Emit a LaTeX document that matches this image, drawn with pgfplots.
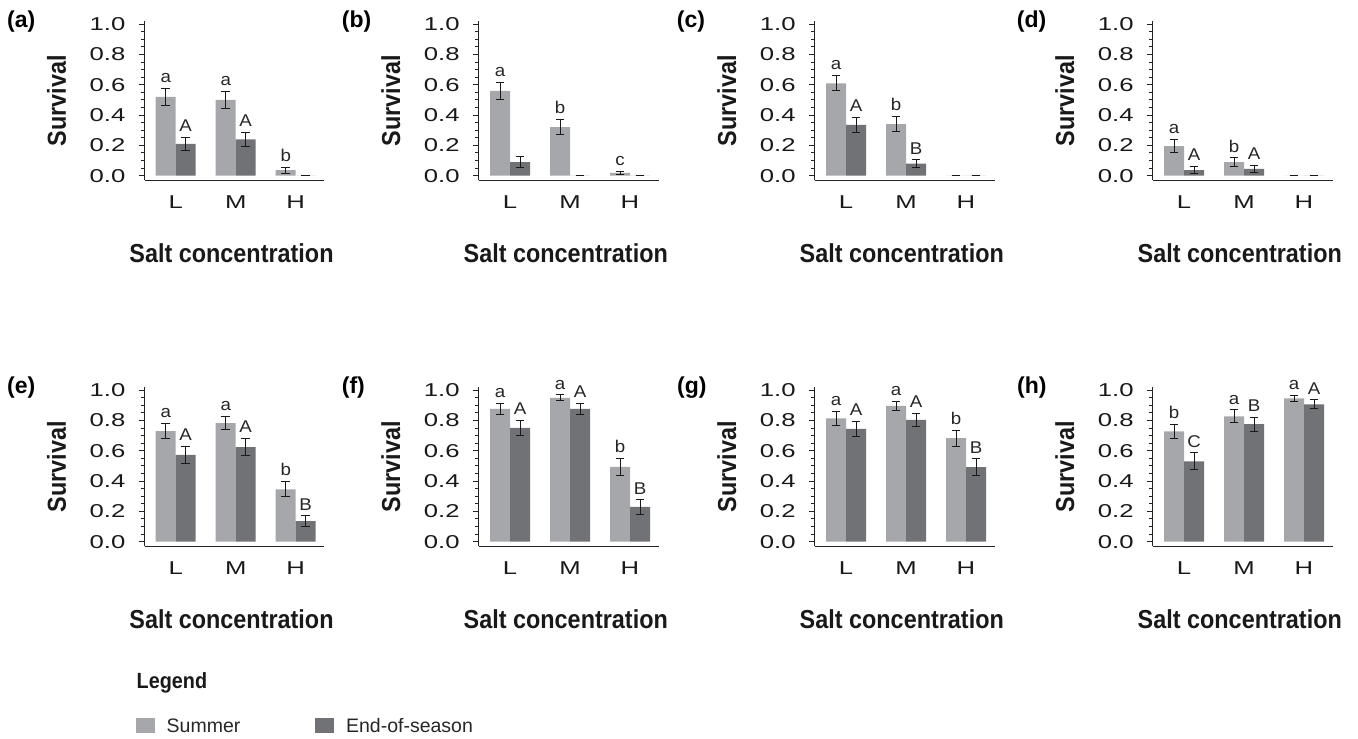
\documentclass[border=0pt]{standalone}
\usepackage{pgfplots}
\pgfplotsset{compat=1.18}
\usepackage{pgfplotstable}
\usepackage{fontspec}
\setmainfont{Liberation Sans}
\newfontfamily\titlefont{Liberation Sans}[FakeStretch=0.9]
\newfontfamily\tickfont{Liberation Sans}[FakeStretch=1.38]
\newfontfamily\letfont{Liberation Sans}[FakeStretch=1.1]
\definecolor{summer}{RGB}{166,167,171}
\definecolor{endseason}{RGB}{113,114,118}
\definecolor{axisc}{RGB}{35,35,35}
\newcommand{\tickfs}{\tickfont\fontsize{18.6}{20}\selectfont}
\newcommand{\letfs}{\letfont\fontsize{17}{19}\selectfont}
\newcommand{\titlefs}{\titlefont\bfseries\fontsize{26}{28}\selectfont}
\newcommand{\panelfs}{\bfseries\fontsize{23}{25}\selectfont}

% columns: x, summer, summer error, end-of-season, end error, letters
\pgfplotstableread{
x s se e ee ls le
0 0.52 0.055 0.21 0.045 a A
1 0.50 0.055 0.24 0.045 a A
2 0.037 0.02 0 0 b {}
}\tabA
\pgfplotstableread{
x s se e ee ls le
0 0.56 0.055 0.09 0.035 a {}
1 0.32 0.05 0 0 b {}
2 0.018 0.011 0 0 c {}
}\tabB
\pgfplotstableread{
x s se e ee ls le
0 0.61 0.05 0.335 0.05 a A
1 0.34 0.05 0.08 0.025 b B
2 0 0 0 0 {} {}
}\tabC
\pgfplotstableread{
x s se e ee ls le
0 0.195 0.045 0.037 0.023 a A
1 0.09 0.027 0.044 0.022 b A
2 0 0 0 0 {} {}
}\tabD
\pgfplotstableread{
x s se e ee ls le
0 0.73 0.048 0.573 0.055 a A
1 0.783 0.045 0.625 0.055 a A
2 0.346 0.05 0.135 0.036 b B
}\tabE
\pgfplotstableread{
x s se e ee ls le
0 0.877 0.035 0.751 0.048 a A
1 0.949 0.02 0.877 0.037 a A
2 0.494 0.055 0.229 0.047 b B
}\tabF
\pgfplotstableread{
x s se e ee ls le
0 0.815 0.045 0.745 0.05 a A
1 0.896 0.032 0.804 0.045 a A
2 0.683 0.053 0.492 0.055 b B
}\tabG
\pgfplotstableread{
x s se e ee ls le
0 0.729 0.048 0.531 0.055 b C
1 0.827 0.043 0.776 0.047 a B
2 0.947 0.02 0.907 0.03 a A
}\tabH

\pgfplotsset{
 panel/.style={
  scale only axis, width=180pt, height=159pt,
  anchor=south west,
  xmin=-0.52, xmax=2.48, ymin=-0.03, ymax=1.02,
  axis x line*=bottom, axis y line*=left,
  axis line style={line width=1.1pt, axisc},
  xtick={0,1,2}, xticklabels={L,M,H},
  ytick={0,0.2,0.4,0.6,0.8,1.0},
  minor y tick num=3,
  tick align=outside,
  major tick length=6pt, minor tick length=4pt,
  every tick/.append style={line width=1pt, axisc},
  xtick style={draw=none},
  /pgf/number format/assume math mode=true,
  tick label style={font=\tickfs, text=black!90},
  yticklabel style={/pgf/number format/fixed, /pgf/number format/fixed zerofill, /pgf/number format/precision=1, anchor=east, inner sep=0pt, xshift=-13pt},
  xticklabel style={anchor=base, inner sep=0pt, yshift=-22pt},
  ylabel={Survival},
  ylabel style={at={(axis description cs:0,0.5)}, anchor=center, yshift=88pt, font=\titlefs, text=black!90},
  xlabel={Salt concentration},
  xlabel style={at={(axis description cs:0.5,0)}, anchor=base, yshift=-82pt, xshift=-3pt, font=\titlefs, text=black!90},
  clip=false,
 },
 ebars/.style={forget plot, draw=none, mark=none, error bars/.cd, y dir=both, y explicit,
   error bar style={draw=black!90, line width=1pt},
   error mark options={rotate=90, mark size=4.3pt, draw=black!90, line width=1pt}},
 letters/.style={draw=none, forget plot, nodes near coords, point meta=explicit symbolic,
   nodes near coords style={anchor=south, inner sep=0pt, yshift=5.5pt, font=\letfs, text=black!85}},
}

\newcommand{\bars}[1]{%
 \addplot[ybar, bar width=20pt, bar shift=-10pt, fill=summer, draw=none,
   legend image code/.code={\fill[summer] (0pt,-7pt) rectangle (19pt,8.6pt);}]
   table[x=x, y=s] {#1};
 \addplot[ybar, bar width=20pt, bar shift=10pt, fill=endseason, draw=none,
   legend image code/.code={\fill[endseason] (0pt,-7pt) rectangle (19pt,8.6pt);}]
   table[x=x, y=e] {#1};
 \addplot[ebars] table[x expr=\thisrow{x}-1/6, y=s, y error=se] {#1};
 \addplot[ebars] table[x expr=\thisrow{x}+1/6, y=e, y error=ee] {#1};
 \addplot[letters] table[x expr=\thisrow{x}-1/6, y expr=\thisrow{s}+\thisrow{se}, meta=ls] {#1};
 \addplot[letters] table[x expr=\thisrow{x}+1/6, y expr=\thisrow{e}+\thisrow{ee}, meta=le] {#1};
}

\begin{document}
\begin{tikzpicture}[x=1pt, y=1pt]
\useasboundingbox (0pt,0pt) rectangle (1358pt,-739pt);

% top row
\begin{axis}[panel, at={(144.5pt,-180.2pt)}]
\bars{\tabA}
\end{axis}
\begin{axis}[panel, at={(478.8pt,-180.2pt)}]
\bars{\tabB}
\end{axis}
\begin{axis}[panel, at={(814.8pt,-180.2pt)}]
\bars{\tabC}
\end{axis}
\begin{axis}[panel, at={(1152.8pt,-180.2pt)}]
\bars{\tabD}
\end{axis}

% bottom row
\begin{axis}[panel, at={(144.5pt,-546.2pt)},
  legend style={at={(rel axis cs:-0.0472,-1.0786)}, anchor=north west, draw=none, fill=none,
    inner sep=0pt, outer sep=0pt, legend columns=2, font=\fontsize{19.5}{21}\selectfont,
    nodes={inner sep=0pt, text=black!85},
    /tikz/every odd column/.append style={column sep=11.7pt},
    /tikz/every even column/.append style={column sep=75pt}},
  legend cell align=left]
\bars{\tabE}
\legend{Summer,End-of-season}
\end{axis}
\begin{axis}[panel, at={(478.8pt,-546.2pt)}]
\bars{\tabF}
\end{axis}
\begin{axis}[panel, at={(814.8pt,-546.2pt)}]
\bars{\tabG}
\end{axis}
\begin{axis}[panel, at={(1152.8pt,-546.2pt)}]
\bars{\tabH}
\end{axis}

% panel labels
\node[anchor=base west, font=\panelfs, inner sep=0pt] at (7pt,-27.5pt) {(a)};
\node[anchor=base west, font=\panelfs, inner sep=0pt] at (341.7pt,-27.5pt) {(b)};
\node[anchor=base west, font=\panelfs, inner sep=0pt] at (676.7pt,-27.5pt) {(c)};
\node[anchor=base west, font=\panelfs, inner sep=0pt] at (1016.7pt,-27.5pt) {(d)};
\node[anchor=base west, font=\panelfs, inner sep=0pt] at (7pt,-393.5pt) {(e)};
\node[anchor=base west, font=\panelfs, inner sep=0pt] at (341.7pt,-393.5pt) {(f)};
\node[anchor=base west, font=\panelfs, inner sep=0pt] at (677pt,-393.5pt) {(g)};
\node[anchor=base west, font=\panelfs, inner sep=0pt] at (1017pt,-393.5pt) {(h)};

% legend title
\node[anchor=base west, inner sep=0pt, font=\titlefont\bfseries\fontsize{22}{24}\selectfont, text=black!90] at (136.5pt,-688.3pt) {Legend};
\end{tikzpicture}
\end{document}
